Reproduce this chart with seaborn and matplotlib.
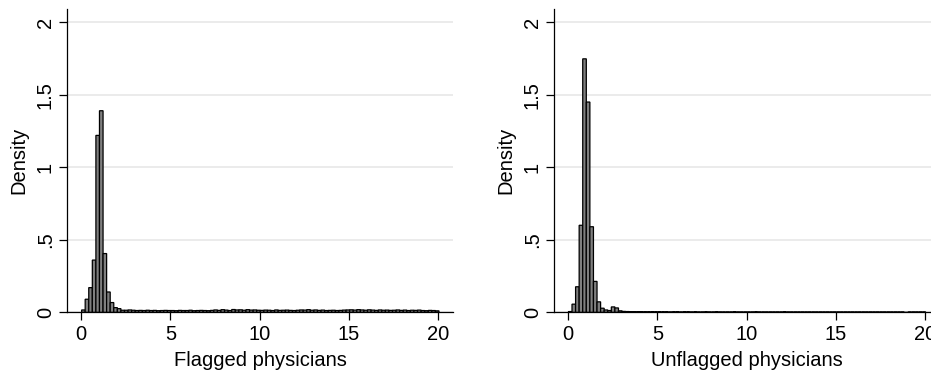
import numpy as np
import pandas as pd
import matplotlib
matplotlib.use('Agg')
import matplotlib.pyplot as plt
import seaborn as sns

# densidade por classe (largura ~0.2)
flag_start = 0.03
unflag_start = 0.02
bin_width = 0.2

flag_head = [0.016, 0.09, 0.17, 0.36, 1.22, 1.39, 0.405, 0.14, 0.067, 0.032, 0.025, 0.014]
flag_tail = [0.014, 0.016, 0.014, 0.012, 0.013, 0.012, 0.014, 0.012, 0.013, 0.011, 0.012, 0.013, 0.012,
             0.012, 0.011, 0.013, 0.012, 0.012, 0.014, 0.011, 0.012, 0.013, 0.012, 0.011, 0.013,
             0.016, 0.013, 0.018, 0.015, 0.012, 0.019, 0.016, 0.017, 0.014, 0.018, 0.015, 0.016, 0.014,
             0.013, 0.015, 0.014, 0.012, 0.016, 0.013, 0.014, 0.015, 0.013, 0.012, 0.014, 0.016,
             0.015, 0.018, 0.014, 0.016, 0.013, 0.015, 0.012, 0.013, 0.014, 0.012, 0.013, 0.015, 0.016,
             0.017, 0.015, 0.018, 0.016, 0.014, 0.017, 0.015, 0.013, 0.016, 0.014, 0.015, 0.013,
             0.014, 0.016, 0.013, 0.015, 0.012, 0.014, 0.013, 0.015, 0.012, 0.011, 0.013, 0.012, 0.010]

unflag_head = [0.005, 0.056, 0.176, 0.60, 1.748, 1.45, 0.59, 0.213, 0.072, 0.028, 0.016, 0.012, 0.037, 0.03, 0.01]
unflag_tail = [0.006, 0.005, 0.004, 0.003, 0.003, 0.003, 0.002, 0.002, 0.003, 0.002,
               0.002, 0.002, 0.002, 0.001, 0.002, 0.002, 0.001, 0.002, 0.002, 0.001,
               0.002, 0.001, 0.001, 0.002, 0.001, 0.001, 0.002, 0.001, 0.001, 0.001,
               0.001, 0.002, 0.001, 0.001, 0.001, 0.001, 0.001, 0.002, 0.001, 0.001,
               0.001, 0.001, 0.001, 0.001, 0.001, 0.002, 0.001, 0.001, 0.001, 0.001,
               0.001, 0.001, 0.001, 0.001, 0.001, 0.001, 0.001, 0.001, 0.001, 0.001,
               0.001, 0.001, 0.001, 0.001, 0.001, 0.001, 0.001, 0.001, 0.001, 0.001,
               0.001, 0.001, 0.001, 0.001, 0.001, 0.001, 0.001, 0.001, 0.001, 0.0,
               0.001, 0.001, 0.001, 0.001, 0.001]

x_ticks = [0, 5, 10, 15, 20]
y_ticks = [0, 0.5, 1, 1.5, 2]
y_ticklabels = ['0', '.5', '1', '1.5', '2']

sns.set_style('white')
plt.rcParams['font.family'] = ['Liberation Sans', 'DejaVu Sans']
plt.rcParams['text.color'] = 'black'
plt.rcParams['axes.labelcolor'] = 'black'
plt.rcParams['xtick.color'] = 'black'
plt.rcParams['ytick.color'] = 'black'

fig = plt.figure(figsize=(9.31, 3.70), dpi=100)
ax1 = fig.add_axes([0.0723, 0.156, 0.414, 0.819])
ax2 = fig.add_axes([0.5954, 0.156, 0.414, 0.819])

painel = [
    (ax1, flag_start, flag_head + flag_tail, 'Flagged physicians'),
    (ax2, unflag_start, unflag_head + unflag_tail, 'Unflagged physicians'),
]

for ax, start, dens, rotulo in painel:
    n = len(dens)
    centro = start + bin_width * (np.arange(n) + 0.5)
    df = pd.DataFrame({'x': centro, 'densidade': dens})
    sns.histplot(data=df, x='x', weights='densidade', binwidth=bin_width,
                 binrange=(start, start + bin_width * n), stat='count',
                 color='#7f7f7f', edgecolor='black', linewidth=0.9, alpha=1,
                 ax=ax, zorder=3, snap=False)
    ax.set_xlim(-0.77, 20.8)
    ax.set_ylim(0, 2.09)
    ax.set_xticks(x_ticks)
    ax.set_xticklabels([str(t) for t in x_ticks])
    ax.set_yticks(y_ticks)
    ax.set_yticklabels(y_ticklabels, rotation=90, va='center')
    ax.tick_params(axis='both', direction='out', length=6, width=0.9, colors='black',
                   labelsize=14.5, pad=3, left=True, bottom=True)
    ax.grid(axis='y', color='#e8e8e8', linewidth=1.2, zorder=0)
    ax.grid(axis='x', visible=False)
    ax.set_axisbelow(True)
    for s in ['top', 'right']:
        ax.spines[s].set_visible(False)
    for s in ['left', 'bottom']:
        ax.spines[s].set_color('black')
        ax.spines[s].set_linewidth(0.9)
    ax.set_xlabel(rotulo, fontsize=14.5, labelpad=5, color='black')
    ax.set_ylabel('Density', fontsize=14.5, labelpad=5, color='black')

fig.savefig('out.png', dpi=100)
